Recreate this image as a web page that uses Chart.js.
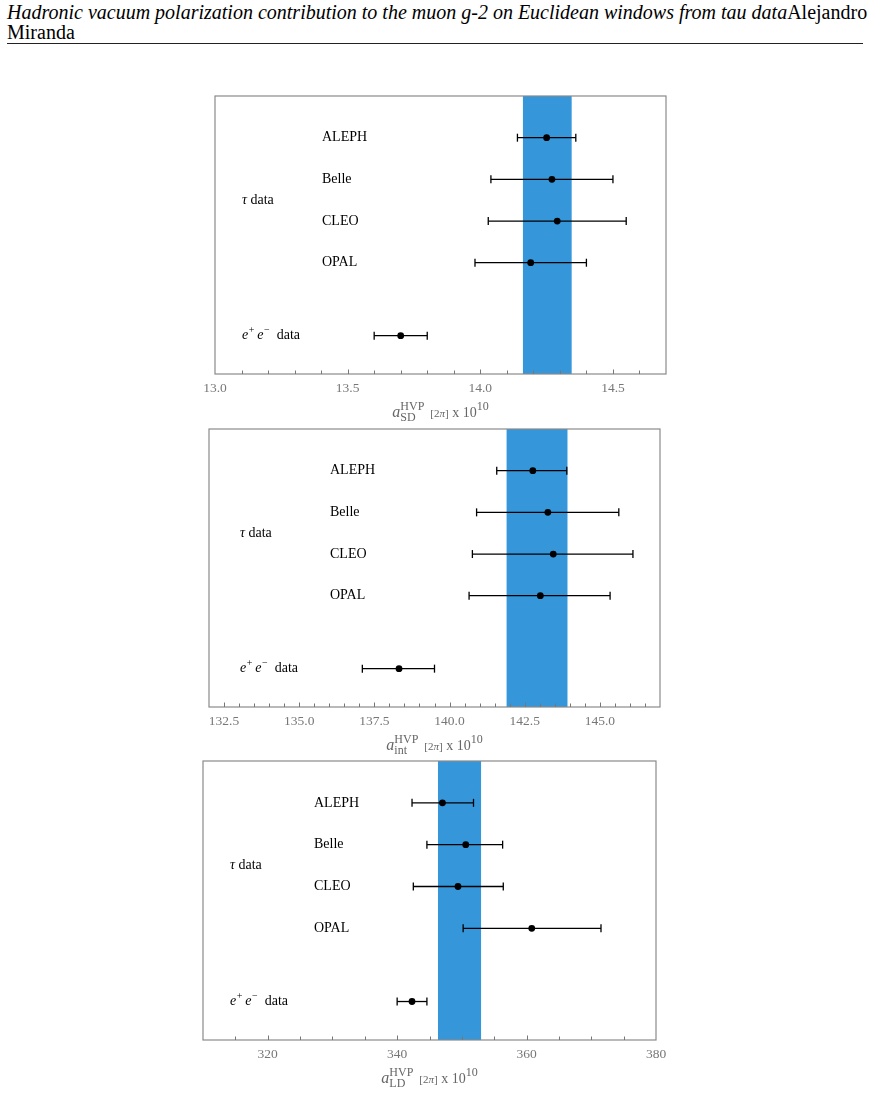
<!DOCTYPE html>
<html>
<head>
<meta charset="utf-8">
<script src="https://cdn.jsdelivr.net/npm/chart.js@4.4.1/dist/chart.umd.min.js"></script>
<style>
    body { margin: 0; background: #fff; width: 871px; height: 1095px; position: relative; overflow: hidden; }
    .header { position: absolute; left: 7px; top: 2px; font-family: "Liberation Serif", serif; font-size: 20px; line-height: 20px; color: #000; white-space: nowrap; }
    .header i { font-style: italic; }
    .rule { position: absolute; left: 7px; top: 43px; width: 856px; border-top: 1px solid #222; }
    .panel { position: absolute; }
</style>
</head>
<body>
<div class="header"><i id="titleText">Hadronic vacuum polarization contribution to the muon g-2 on Euclidean windows from tau data</i>Alejandro<br>Miranda</div>
<div class="rule"></div>

<div class="panel" id="boxSD" style="left:185px; top:90px; width:511px; height:336px;"><canvas id="chartSD"></canvas></div>
<div class="panel" id="boxInt" style="left:179px; top:423px; width:511px; height:336px;"><canvas id="chartInt"></canvas></div>
<div class="panel" id="boxLD" style="left:173px; top:755px; width:513px; height:337px;"><canvas id="chartLD"></canvas></div>

<script>
// Rows (top to bottom) and their vertical positions
const rowNames = ['ALEPH', 'Belle', 'CLEO', 'OPAL', 'ee'];
const rowY = [4, 3, 2, 1, -0.75];
const tauLabelY = 2.5;

// Short distance window
const sdCentral = [14.25, 14.27, 14.29, 14.19, 13.70];
const sdLow = [14.14, 14.04, 14.03, 13.98, 13.60];
const sdHigh = [14.36, 14.50, 14.55, 14.40, 13.80];
const sdBand = [14.16, 14.345];
const sdTicks = [13.0, 13.5, 14.0, 14.5];

// Intermediate window
const intCentral = [142.77, 143.27, 143.45, 143.02, 138.32];
const intLow = [141.57, 140.90, 140.76, 140.65, 137.10];
const intHigh = [143.90, 145.63, 146.10, 145.34, 139.50];
const intBand = [141.89, 143.93];
const intTicks = [132.5, 135.0, 137.5, 140.0, 142.5, 145.0];

// Long distance window
const ldCentral = [347.0, 350.6, 349.4, 360.8, 342.3];
const ldLow = [342.3, 344.6, 342.5, 350.2, 340.0];
const ldHigh = [351.8, 356.3, 356.4, 371.5, 344.6];
const ldBand = [346.3, 353.0];
const ldTicks = [320, 340, 360, 380];

const SERIF = '"Liberation Serif", "DejaVu Serif", serif';
const BAND_COLOR = '#3596da';

document.addEventListener('DOMContentLoaded', function() {
    makePanel('chartSD', {
        central: sdCentral, low: sdLow, high: sdHigh, band: sdBand, ticks: sdTicks,
        min: 13.0, max: 14.7, minor: 0.1, decimals: 1, sub: 'SD',
        tauX: 27, nameX: 107
    });
    makePanel('chartInt', {
        central: intCentral, low: intLow, high: intHigh, band: intBand, ticks: intTicks,
        min: 132.0, max: 147.0, minor: 0.5, decimals: 1, sub: 'int',
        tauX: 31, nameX: 121
    });
    makePanel('chartLD', {
        central: ldCentral, low: ldLow, high: ldHigh, band: ldBand, ticks: ldTicks,
        min: 310, max: 380, minor: 5, decimals: 0, sub: 'LD',
        tauX: 27, nameX: 111
    });
});

function makePanel(canvasId, p) {
    const yMin = -1.67, yMax = 5;
    const datasets = [];

    // points
    datasets.push({
        data: p.central.map((v, i) => ({ x: v, y: rowY[i] })),
        pointRadius: 3.4,
        pointBackgroundColor: '#000',
        pointBorderWidth: 0,
        showLine: false,
        order: 1
    });

    // error bars with caps
    p.low.forEach((lo, i) => {
        datasets.push({
            data: [{ x: lo, y: rowY[i] }, { x: p.high[i], y: rowY[i] }],
            showLine: true,
            borderColor: '#000',
            borderWidth: 1.3,
            pointStyle: 'line',
            rotation: 90,
            pointRadius: 4,
            pointBorderWidth: 1.3,
            pointBorderColor: '#000',
            order: 2
        });
    });

    // average band
    datasets.push({
        data: [{ x: p.band[0], y: yMax }, { x: p.band[1], y: yMax }],
        showLine: true,
        fill: 'start',
        backgroundColor: BAND_COLOR,
        borderWidth: 0,
        pointRadius: 0,
        order: 3
    });

    const decor = {
        id: 'decor',
        afterDatasetsDraw(chart) {
            const ctx = chart.ctx;
            const a = chart.chartArea;
            const xs = chart.scales.x;
            const ys = chart.scales.y;
            ctx.save();

            // frame
            ctx.strokeStyle = '#8a8a8a';
            ctx.lineWidth = 1.2;
            ctx.strokeRect(a.left, a.top, a.right - a.left, a.bottom - a.top);

            // inner ticks
            ctx.strokeStyle = '#777';
            ctx.lineWidth = 1;
            const n = Math.round((p.max - p.min) / p.minor);
            for (let k = 1; k < n; k++) {
                const v = p.min + k * p.minor;
                const x = Math.round(xs.getPixelForValue(v)) + 0.5;
                const major = p.ticks.some(t => Math.abs(t - v) < p.minor / 10);
                ctx.beginPath();
                ctx.moveTo(x, a.bottom);
                ctx.lineTo(x, a.bottom - (major ? 4.5 : 3.5));
                ctx.stroke();
            }

            // row labels
            ctx.fillStyle = '#000';
            ctx.textBaseline = 'middle';
            ctx.textAlign = 'left';
            const font = '14px ' + SERIF;
            const ifont = 'italic 14px ' + SERIF;
            for (let i = 0; i < 4; i++) {
                ctx.font = font;
                ctx.fillText(rowNames[i], a.left + p.nameX, ys.getPixelForValue(rowY[i]));
            }
            // tau data
            let x = a.left + p.tauX;
            let y = ys.getPixelForValue(tauLabelY);
            ctx.font = ifont;
            ctx.fillText('τ', x, y);
            x += ctx.measureText('τ').width;
            ctx.font = font;
            ctx.fillText(' data', x, y);
            // e+ e- data
            x = a.left + p.tauX;
            y = ys.getPixelForValue(rowY[4]);
            ctx.font = ifont;
            ctx.fillText('e', x, y);
            x += ctx.measureText('e').width + 0.5;
            ctx.font = '10px ' + SERIF;
            ctx.fillText('+', x, y - 5);
            x += ctx.measureText('+').width + 3;
            ctx.font = ifont;
            ctx.fillText('e', x, y);
            x += ctx.measureText('e').width + 0.5;
            ctx.font = '10px ' + SERIF;
            ctx.fillText('−', x, y - 5);
            x += ctx.measureText('−').width;
            ctx.font = font;
            ctx.fillText('  data', x, y);

            // axis title: a_sub^HVP [2π] x 10^10
            drawAxisTitle(ctx, (a.left + a.right) / 2, a.bottom + 43, p.sub);
            ctx.restore();
        }
    };

    return new Chart(document.getElementById(canvasId), {
        type: 'scatter',
        data: { datasets: datasets },
        options: {
            responsive: true,
            maintainAspectRatio: false,
            animation: false,
            events: [],
            layout: { padding: { top: 6, left: 30, right: 30, bottom: 0 } },
            plugins: { legend: { display: false }, tooltip: { enabled: false } },
            scales: {
                x: {
                    type: 'linear',
                    min: p.min,
                    max: p.max,
                    grid: { display: false, drawTicks: false },
                    border: { display: false },
                    afterBuildTicks: function(scale) {
                        scale.ticks = p.ticks.map(v => ({ value: v }));
                    },
                    afterFit: function(scale) {
                        scale.height = 52;
                    },
                    ticks: {
                        autoSkip: false,
                        maxRotation: 0,
                        padding: 6,
                        color: '#777',
                        font: { family: SERIF, size: 13.5 },
                        callback: function(value) {
                            return Number(value).toFixed(p.decimals);
                        }
                    }
                },
                y: {
                    type: 'linear',
                    display: false,
                    min: yMin,
                    max: yMax
                }
            }
        },
        plugins: [decor]
    });
}

function drawAxisTitle(ctx, cx, base, sub) {
    const small = '11px ' + SERIF;
    ctx.fillStyle = '#666';
    ctx.textBaseline = 'alphabetic';
    ctx.textAlign = 'left';

    function w(text, font) { ctx.font = font; return ctx.measureText(text).width; }

    const aW = w('a', 'italic 16px ' + SERIF);
    const subW = w(sub, '12px ' + SERIF);
    const supW = w('HVP', '12px ' + SERIF);
    const scriptW = Math.max(subW, supW);
    const gap = 6;
    const bW = w('[2', small) + w('π', 'italic ' + small) + w(']', small);
    const xW = w(' x 10', '14px ' + SERIF);
    const eW = w('10', '12px ' + SERIF);
    const total = aW + scriptW + gap + bW + xW + eW;

    let x = cx - total / 2;
    ctx.font = 'italic 16px ' + SERIF;
    ctx.fillText('a', x, base);
    x += aW;
    ctx.font = '12px ' + SERIF;
    ctx.fillText(sub, x, base + 4);
    ctx.fillText('HVP', x, base - 7);
    x += scriptW + gap;
    ctx.font = small;
    ctx.fillText('[2', x, base);
    x += w('[2', small);
    ctx.font = 'italic ' + small;
    ctx.fillText('π', x, base);
    x += w('π', 'italic ' + small);
    ctx.font = small;
    ctx.fillText(']', x, base);
    x += w(']', small);
    ctx.font = '14px ' + SERIF;
    ctx.fillText(' x 10', x, base);
    x += xW;
    ctx.font = '12px ' + SERIF;
    ctx.fillText('10', x, base - 7);
}
</script>
</body>
</html>
